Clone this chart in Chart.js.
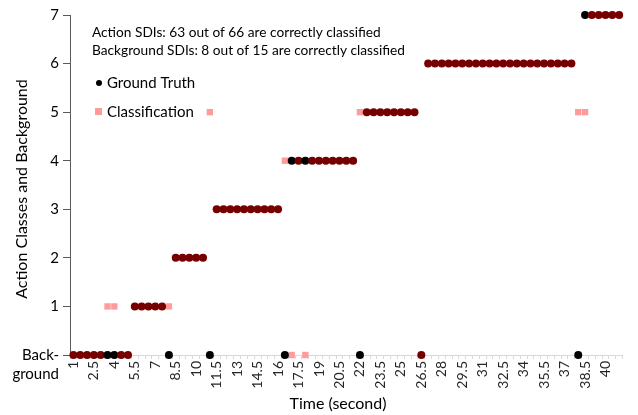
<!DOCTYPE html>
<html><head><meta charset="utf-8">
<script src="https://cdn.jsdelivr.net/npm/chart.js@4"></script>
<style>html,body{margin:0;padding:0;background:#fff}canvas{display:block}</style>
</head><body>
<canvas id="c" width="638" height="415"></canvas>
<script>
const times = [1,1.5,2,2.5,3,3.5,4,4.5,5,5.5,6,6.5,7,7.5,8,8.5,9,9.5,10,10.5,11,11.5,12,12.5,13,13.5,14,14.5,15,15.5,16,16.5,17,17.5,18,18.5,19,19.5,20,20.5,21,21.5,22,22.5,23,23.5,24,24.5,25,25.5,26,26.5,27,27.5,28,28.5,29,29.5,30,30.5,31,31.5,32,32.5,33,33.5,34,34.5,35,35.5,36,36.5,37,37.5,38,38.5,39,39.5,40,40.5,41];
const groundTruth = [0,0,0,0,0,0,0,0,0, 1,1,1,1,1, 0, 2,2,2,2,2, 0, 3,3,3,3,3,3,3,3,3,3, 0, 4,4,4,4,4,4,4,4,4,4, 0, 5,5,5,5,5,5,5,5, 0, 6,6,6,6,6,6,6,6,6,6,6,6,6,6,6,6,6,6,6,6,6,6, 0, 7,7,7,7,7,7];
const classification = [0,0,0,0,0,1,1,0,0, 1,1,1,1,1, 1, 2,2,2,2,2, 5, 3,3,3,3,3,3,3,3,3,3, 4, 0,4,0,4,4,4,4,4,4,4, 5, 5,5,5,5,5,5,5,5, 0, 6,6,6,6,6,6,6,6,6,6,6,6,6,6,6,6,6,6,6,6,6,6, 5, 5,7,7,7,7,7];
const xTickLabels = ['1','2.5','4','5.5','7','8.5','10','11.5','13','14.5','16','17.5','19','20.5','22','23.5','25','26.5','28','29.5','31','32.5','34','35.5','37','38.5','40'];
const yTickLabels = [['', 'Back-','ground'],'1','2','3','4','5','6','7'];
const noteLines = ['Action SDIs: 63 out of 66 are correctly classified','Background SDIs: 8 out of 15 are correctly classified'];
const seriesNames = ['Ground Truth','Classification'];
const xTitle = 'Time (second)';
const yTitle = 'Action Classes and Background';

const FONT = 'Lato, "Open Sans", sans-serif';
const MAROON = '#760000', PINK = '#ff9b9b';
const match = i => groundTruth[i] === classification[i];

const annot = {
  id: 'annot',
  afterDraw(chart) {
    const ctx = chart.ctx, a = chart.chartArea;
    ctx.save();
    ctx.fillStyle = '#000';
    ctx.textBaseline = 'middle';
    ctx.textAlign = 'left';
    ctx.font = '13.7px ' + FONT;
    ctx.fillText(noteLines[0], a.left + 22, a.top + 18);
    ctx.fillText(noteLines[1], a.left + 22, a.top + 36);
    ctx.font = '15px ' + FONT;
    // legend
    ctx.beginPath(); ctx.arc(a.left + 29, a.top + 68, 3, 0, Math.PI * 2); ctx.fillStyle = '#000'; ctx.fill();
    ctx.fillText(seriesNames[0], a.left + 37, a.top + 68);
    ctx.fillStyle = PINK; ctx.fillRect(a.left + 25, a.top + 93, 7, 7);
    ctx.fillStyle = '#000';
    ctx.fillText(seriesNames[1], a.left + 37, a.top + 97);
    // axis titles
    ctx.font = '16px ' + FONT;
    ctx.textAlign = 'center';
    ctx.fillText(xTitle, 338, 404);
    ctx.translate(22, (a.top + a.bottom) / 2 + 4);
    ctx.rotate(-Math.PI / 2);
    ctx.fillText(yTitle, 0, 0);
    ctx.restore();
  }
};

new Chart(document.getElementById('c'), {
  type: 'line',
  data: {
    labels: times.map(String),
    datasets: [
      {
        label: seriesNames[0],
        data: groundTruth,
        showLine: false,
        pointStyle: 'circle',
        pointRadius: 4,
        pointBorderWidth: 0,
        pointBackgroundColor: c => match(c.dataIndex) ? MAROON : '#000',
        pointBorderColor: 'rgba(0,0,0,0)',
        clip: false
      },
      {
        label: seriesNames[1],
        data: classification,
        showLine: false,
        pointStyle: 'rect',
        pointRadius: c => match(c.dataIndex) ? 0 : 4.5,
        pointBorderWidth: 0,
        pointBackgroundColor: PINK,
        pointBorderColor: 'rgba(0,0,0,0)',
        clip: false
      }
    ]
  },
  options: {
    responsive: false,
    animation: false,
    events: [],
    layout: { padding: { top: 15, right: 6, left: 0, bottom: 0 } },
    plugins: { legend: { display: false }, tooltip: { enabled: false } },
    scales: {
      x: {
        type: 'category',
        offset: true,
        afterFit: s => { s.height = 60; },
        border: { color: '#d9d9d9', width: 1 },
        grid: { drawOnChartArea: false, drawTicks: true, tickLength: 4, color: '#d9d9d9', offset: true },
        ticks: {
          autoSkip: false,
          maxRotation: 90, minRotation: 90,
          padding: 2,
          color: '#262626',
          font: { family: FONT, size: 14 },
          callback: (v, i) => xTickLabels.includes(times[i].toString()) && i % 3 === 0 ? times[i].toString() : ''
        }
      },
      y: {
        min: 0, max: 7,
        afterFit: s => { s.width = 70; },
        border: { color: '#595959', width: 1 },
        grid: { drawOnChartArea: false, drawTicks: true, tickLength: 7, color: '#595959' },
        ticks: {
          stepSize: 1,
          autoSkip: false,
          padding: 4,
          color: '#000',
          font: { family: FONT, size: 15, lineHeight: 1.3 },
          callback: v => yTickLabels[v]
        }
      }
    }
  },
  plugins: [annot]
});
</script>
</body></html>
